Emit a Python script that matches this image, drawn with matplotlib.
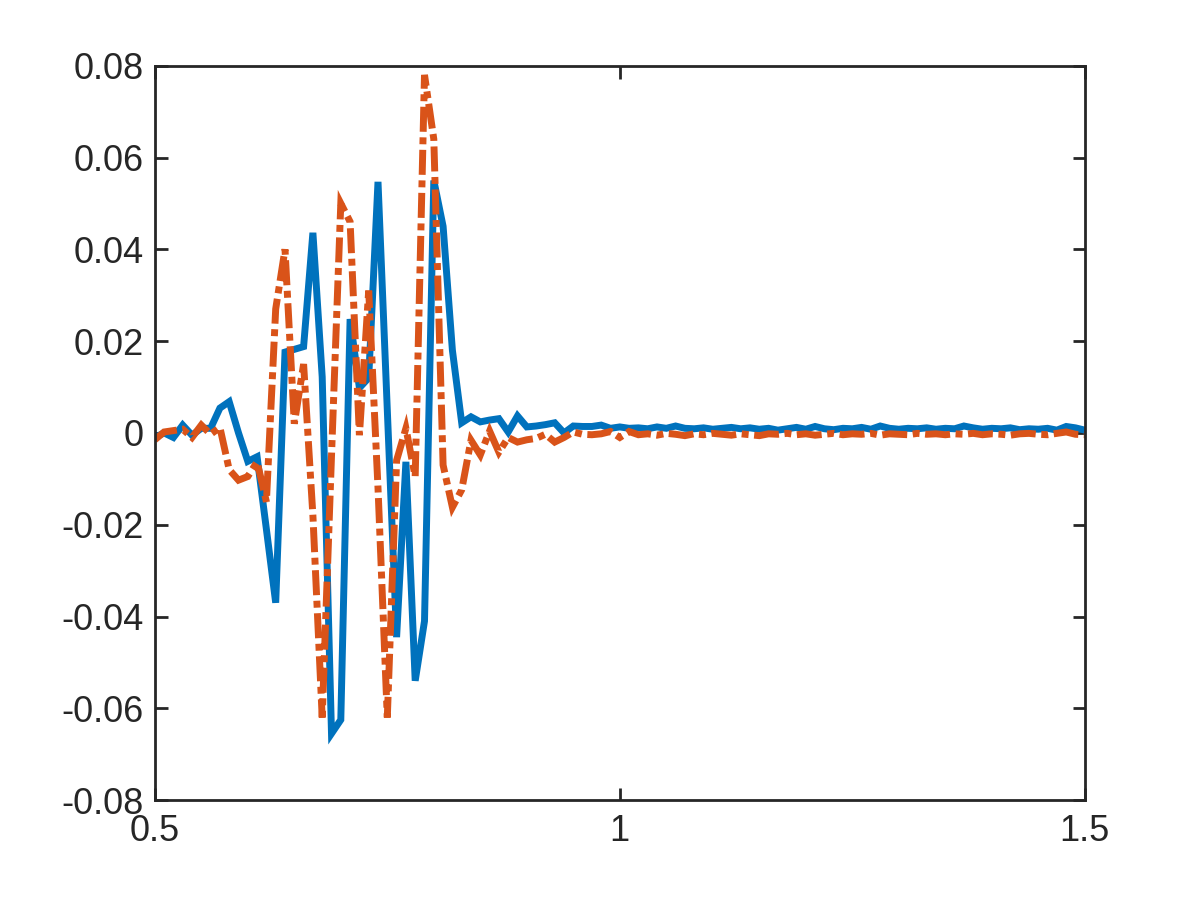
import matplotlib.pyplot as plt
import numpy as np

plt.rcParams['font.family'] = ['Liberation Sans', 'DejaVu Sans']

# sample points 0.5 : 0.01 : 1.5
x = np.linspace(0.5, 1.5, 101)

# solid blue series
u1 = [-0.0010, 0.0000, -0.0010, 0.0017, -0.0005, 0.0010, 0.0010, 0.0054, 0.0068, 0.0000,
      -0.0062, -0.0052, -0.0210, -0.0370, 0.0176, 0.0182, 0.0188, 0.0436, 0.0122, -0.0655,
      -0.0625, 0.0248, 0.0098, 0.0120, 0.0547, 0.0050, -0.0445, -0.0063, -0.0540, -0.0410,
      0.0550, 0.0450, 0.0180, 0.0022, 0.0035, 0.0024, 0.0028, 0.0031, 0.0002, 0.0037,
      0.0013, 0.0015, 0.0018, 0.0022, 0.0000, 0.0015, 0.0014, 0.0014, 0.0017, 0.0010,
      0.0013, 0.0010, 0.0011, 0.0009, 0.0013, 0.0010, 0.0015, 0.0010, 0.0009, 0.0011,
      0.0008, 0.0010, 0.0012, 0.0009, 0.0011, 0.0008, 0.0010, 0.0006, 0.0009, 0.0012,
      0.0008, 0.0014, 0.0009, 0.0007, 0.0010, 0.0009, 0.0012, 0.0008, 0.0015, 0.0010,
      0.0008, 0.0010, 0.0009, 0.0011, 0.0008, 0.0010, 0.0009, 0.0015, 0.0011, 0.0008,
      0.0010, 0.0009, 0.0011, 0.0007, 0.0009, 0.0008, 0.0010, 0.0006, 0.0014, 0.0011,
      0.0006]

# dash-dot orange series
u2 = [-0.0015, 0.0002, 0.0005, 0.0008, -0.0010, 0.0017, -0.0003, 0.0012, -0.0080, -0.0103,
      -0.0095, -0.0063, -0.0150, 0.0270, 0.0400, 0.0020, 0.0150, -0.0180, -0.0620, -0.0050,
      0.0500, 0.0460, -0.0005, 0.0310, -0.0120, -0.0620, -0.0060, 0.0010, -0.0095, 0.0780,
      0.0640, -0.0070, -0.0162, -0.0124, -0.0016, -0.0048, 0.0004, -0.0042, -0.0010, -0.0020,
      -0.0015, -0.0012, -0.0003, -0.0020, -0.0010, 0.0002, -0.0003, -0.0004, -0.0002, 0.0003,
      -0.0010, 0.0003, -0.0004, -0.0002, -0.0005, -0.0001, -0.0003, -0.0006, -0.0002, -0.0004,
      -0.0001, -0.0003, -0.0005, -0.0002, -0.0004, -0.0006, -0.0002, -0.0003, -0.0001, -0.0004,
      -0.0002, -0.0005, -0.0003, -0.0001, -0.0004, -0.0002, -0.0003, -0.0001, -0.0005, -0.0002,
      -0.0003, -0.0004, -0.0001, -0.0003, -0.0002, -0.0004, -0.0002, -0.0003, -0.0001, -0.0004,
      -0.0002, -0.0003, -0.0005, -0.0002, -0.0001, -0.0003, -0.0004, -0.0001, 0.0002, -0.0003,
      -0.0004]

xticks = [0.5, 1, 1.5]
xticklabels = ['0.5', '1', '1.5']
yticks = [-0.08, -0.06, -0.04, -0.02, 0, 0.02, 0.04, 0.06, 0.08]
yticklabels = ['-0.08', '-0.06', '-0.04', '-0.02', '0', '0.02', '0.04', '0.06', '0.08']

fig = plt.figure(figsize=(12, 9), dpi=100)
ax = fig.add_axes([0.129, 0.111, 0.775, 0.816])

ax.plot(x, u1, color='#0072BD', lw=5, solid_joinstyle='miter')
l2, = ax.plot(x, u2, color='#D95319', lw=5, dash_capstyle='butt', dash_joinstyle='miter')
l2.set_dashes((3.6, 0.8, 1.0, 0.8))

ax.set_xlim(0.5, 1.5)
ax.set_ylim(-0.08, 0.08)
ax.set_xticks(xticks)
ax.set_xticklabels(xticklabels)
ax.set_yticks(yticks)
ax.set_yticklabels(yticklabels)

axcol = '#262626'
for s in ax.spines.values():
    s.set_linewidth(2)
    s.set_color(axcol)
ax.tick_params(direction='in', length=9, width=2, top=True, right=True,
               labelsize=26, colors=axcol)
ax.tick_params(axis='x', pad=10)
ax.tick_params(axis='y', pad=8)

fig.savefig('out.png', dpi=100)
